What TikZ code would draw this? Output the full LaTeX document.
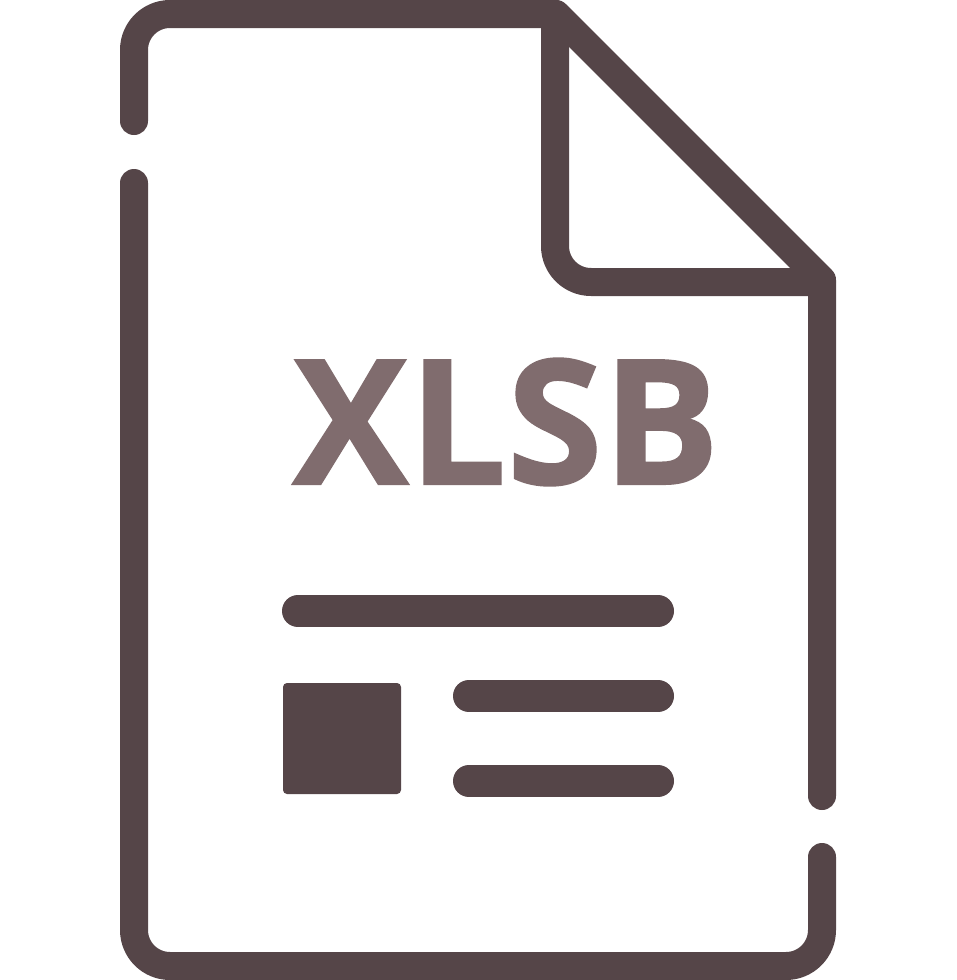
\documentclass[tikz,border=0pt]{standalone}
\usepackage{fontspec}
\setmainfont{Open Sans}[BoldFeatures={FakeBold=1}]
\definecolor{ink}{HTML}{554548}
\definecolor{lab}{HTML}{806C6E}
\tikzset{x=1pt,y=-1pt,
  outline/.style={draw=ink,line width=28pt,line cap=round,line join=round},
  bar/.style={draw=ink,line width=32pt,line cap=round},
  lbl/.style={text=lab,font=\fontsize{174}{174}\selectfont\bfseries,inner sep=0pt,anchor=center}}
\begin{document}
\begin{tikzpicture}
\useasboundingbox (0,0) rectangle (956,980);
\fill[white] (0,0) rectangle (956,980);
\draw[outline] (134,121) -- (134,50) arc[start angle=180,end angle=270,radius=36] -- (556,14) -- (822,280) -- (822,796);
\draw[outline] (822,857) -- (822,930) arc[start angle=0,end angle=90,radius=36] -- (170,966) arc[start angle=90,end angle=180,radius=36] -- (134,183);
\draw[outline] (555,14) -- (555,246) arc[start angle=180,end angle=90,radius=36] -- (822,282);
\node[lbl] (title) at (506,422) {XLSB};
\coordinate (a1) at (298,611); \coordinate (a2) at (658,611);
\coordinate (b1) at (469,696); \coordinate (b2) at (658,696);
\coordinate (c1) at (469,781); \coordinate (c2) at (658,781);
\draw[bar] (a1) -- (a2);
\draw[bar] (b1) -- (b2);
\draw[bar] (c1) -- (c2);
\fill[ink,rounded corners=4pt] (283,683) rectangle (401,794);
\end{tikzpicture}
\end{document}
